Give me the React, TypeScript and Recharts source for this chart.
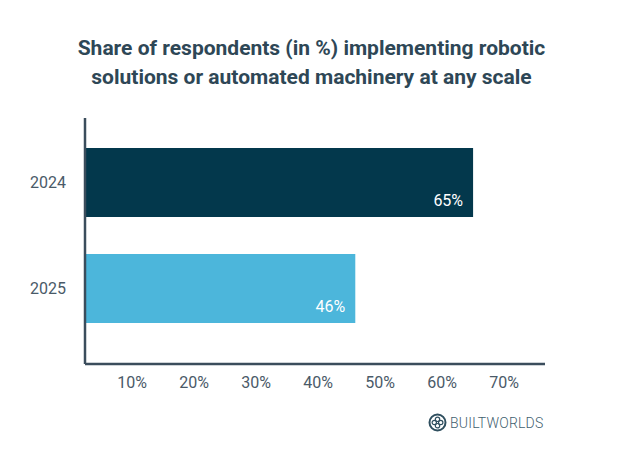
import React from "react";
import { BarChart, Bar, XAxis, YAxis, Cell, LabelList } from "recharts";

const categories = ["2024", "2025"];
const shares = [65, 46];
const xTicks = [10, 20, 30, 40, 50, 60, 70];
const barColors = ["#03384c", "#4cb6db"];

const data = categories.map((c, i) => ({ year: c, share: shares[i] }));

const InsideLabel = (props: any) => {
  const { x, y, width, height, value } = props;
  return (
    <text
      x={x + width - 10}
      y={y + height - 17}
      textAnchor="end"
      dominantBaseline="central"
      fill="#ffffff"
      fontSize={16}
      fontFamily="Roboto, sans-serif"
    >
      {value}%
    </text>
  );
};

export default function App() {
  return (
    <div style={{ position: "absolute", left: 0, top: 0, width: 623, height: 458, background: "#fff", fontFamily: "Roboto, sans-serif" }}>
      <div
        style={{
          position: "absolute",
          left: 0,
          top: 34,
          width: 623,
          textAlign: "center",
          fontWeight: 700,
          fontSize: 21,
          lineHeight: "29px",
          color: "#2e4756",
        }}
      >
        Share of respondents (in %) implementing robotic
        <br />
        solutions or automated machinery at any scale
      </div>
      <BarChart
        width={623}
        height={458}
        data={data}
        layout="vertical"
        margin={{ top: 118, right: 78, bottom: 64, left: 0 }}
        barCategoryGap="17.5%"
      >
        <XAxis
          type="number"
          domain={[2.4, 76.6]}
          allowDataOverflow
          ticks={xTicks}
          tickFormatter={(v: number) => `${v}%`}
          axisLine={{ stroke: "#3b4d5c", strokeWidth: 2.5 }}
          tickLine={false}
          tickMargin={7}
          tick={{ fill: "#4a5a68", fontSize: 16, fontFamily: "Roboto, sans-serif" }}
        />
        <YAxis
          type="category"
          dataKey="year"
          width={85}
          padding={{ top: 11.5, bottom: 22.5 }}
          axisLine={{ stroke: "#3b4d5c", strokeWidth: 2.5 }}
          tickLine={false}
          tickMargin={13}
          tick={{ fill: "#4a5a68", fontSize: 16, fontFamily: "Roboto, sans-serif" }}
        />
        <Bar dataKey="share" isAnimationActive={false}>
          {data.map((d, i) => (
            <Cell key={d.year} fill={barColors[i]} />
          ))}
          <LabelList dataKey="share" content={InsideLabel} />
        </Bar>
      </BarChart>
      <div style={{ position: "absolute", left: 428, top: 413, display: "flex", alignItems: "center" }}>
        <svg width="19" height="19" viewBox="0 0 19 19">
          <circle cx="9.5" cy="9.5" r="8" fill="none" stroke="#2f4f5f" strokeWidth="2" />
          <circle cx="9.5" cy="6.3" r="2.2" fill="none" stroke="#2f4f5f" strokeWidth="1.2" />
          <circle cx="9.5" cy="12.7" r="2.2" fill="none" stroke="#2f4f5f" strokeWidth="1.2" />
          <circle cx="6.3" cy="9.5" r="2.2" fill="none" stroke="#2f4f5f" strokeWidth="1.2" />
          <circle cx="12.7" cy="9.5" r="2.2" fill="none" stroke="#2f4f5f" strokeWidth="1.2" />
        </svg>
        <span style={{ marginLeft: 3, fontSize: 14, fontWeight: 300, letterSpacing: 0.2, color: "#3f5f6f" }}>BUILTWORLDS</span>
      </div>
    </div>
  );
}
